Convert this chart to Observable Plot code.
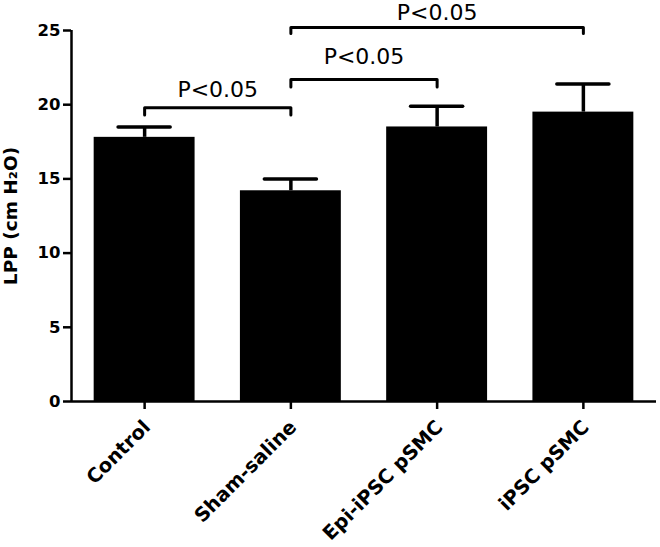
<!DOCTYPE html>
<html>
<head>
<meta charset="utf-8">
<script src="https://cdn.jsdelivr.net/npm/d3@7"></script>
<script src="https://cdn.jsdelivr.net/npm/@observablehq/plot@0.6"></script>
<style>
  body { margin: 0; background: #fff; }
  #chart svg { display: block; }
</style>
</head>
<body>
<div id="chart"></div>
<script>
// Data
const categories = ["Control", "Sham-saline", "Epi-iPSC pSMC", "iPSC pSMC"];
const means = [17.8, 14.2, 18.5, 19.5];
const upper = [18.5, 15.0, 19.9, 21.4];
const yTicks = [0, 5, 10, 15, 20, 25];

// Significance brackets (indices into categories)
const bracketLeft = [0, 1, 1];
const bracketRight = [1, 2, 3];
const bracketLevel = [19.8, 21.7, 25.2];
const bracketTail = [19.3, 21.2, 24.8];
const bracketTextY = [20.5, 22.75, 25.7];
const bracketLabel = ["P<0.05", "P<0.05", "P<0.05"];

const yLabel = "LPP (cm H\u2082O)";

const data = categories.map((c, i) => ({i, c, mean: means[i], upper: upper[i]}));
const bracketPts = [];
bracketLeft.forEach((l, k) => {
  const r = bracketRight[k];
  bracketPts.push({k, x: l, y: bracketTail[k]});
  bracketPts.push({k, x: l, y: bracketLevel[k]});
  bracketPts.push({k, x: r, y: bracketLevel[k]});
  bracketPts.push({k, x: r, y: bracketTail[k]});
});
const bracketText = bracketLabel.map((t, k) => ({t, x: (bracketLeft[k] + bracketRight[k]) / 2, y: bracketTextY[k]}));

const halfBar = 0.345;
const halfCap = 0.178;

const chart = Plot.plot({
  width: 660,
  height: 547,
  marginTop: 30,
  marginBottom: 146,
  marginLeft: 71,
  marginRight: 4,
  style: {fontFamily: "'DejaVu Sans', sans-serif", background: "#fff", color: "#000"},
  x: {domain: [-0.5, categories.length - 0.5]},
  y: {domain: [0, 25]},
  marks: [
    Plot.rectY(data, {x1: d => d.i - halfBar, x2: d => d.i + halfBar, y1: 0, y2: "mean", fill: "#000"}),
    Plot.ruleX(data, {x: "i", y1: "mean", y2: "upper", stroke: "#000", strokeWidth: 3.5}),
    Plot.ruleY(data, {x1: d => d.i - halfCap, x2: d => d.i + halfCap, y: "upper", stroke: "#000", strokeWidth: 3.5, strokeLinecap: "round"}),
    Plot.line(bracketPts, {x: "x", y: "y", z: "k", stroke: "#000", strokeWidth: 3, strokeLinecap: "round", strokeLinejoin: "round"}),
    Plot.text(bracketText, {x: "x", y: "y", text: "t", fontSize: 22, lineAnchor: "bottom", fill: "#000"}),
    Plot.ruleY([0], {stroke: "#000", strokeWidth: 2.5}),
    Plot.ruleX([-0.5], {y1: 0, y2: 25, stroke: "#000", strokeWidth: 2.5}),
    Plot.axisY({ticks: yTicks, tickSize: 8, tickPadding: 3, fontSize: 16.5, fontWeight: "bold", strokeWidth: 2.5, label: null, color: "#000"}),
    Plot.axisX({ticks: d3.range(categories.length), tickFormat: () => "", tickSize: 8, strokeWidth: 2.5, label: null, color: "#000"}),
    Plot.text(data, {x: "i", y: 0, text: "c", rotate: -45, textAnchor: "end", lineAnchor: "top", dx: -3, dy: 17, fontSize: 19.5, fontWeight: "bold", fill: "#000"}),
    Plot.text([yLabel], {frameAnchor: "left", rotate: -90, dx: -68, lineAnchor: "top", textAnchor: "middle", fontSize: 18.5, fontWeight: "bold", fill: "#000"})
  ]
});
document.getElementById("chart").appendChild(chart);
</script>
</body>
</html>
